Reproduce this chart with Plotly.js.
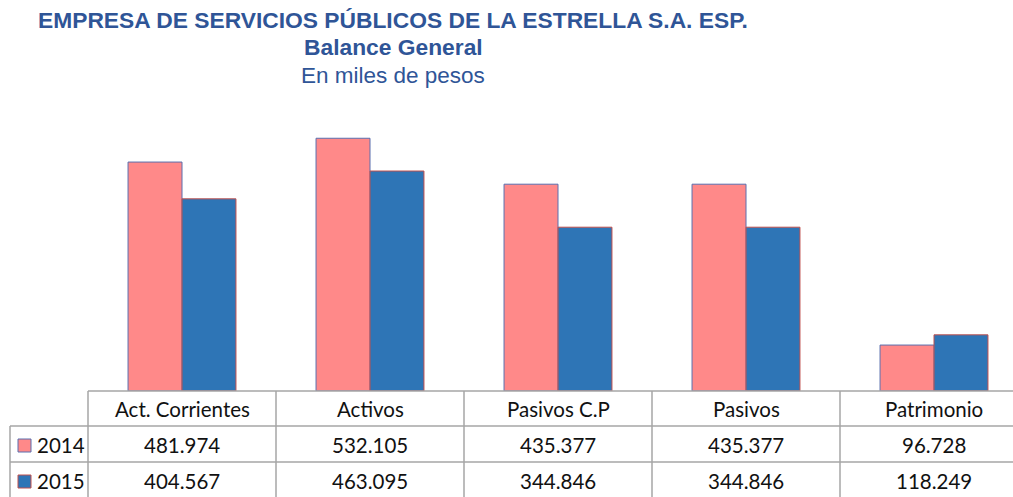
<!DOCTYPE html>
<html><head><meta charset="utf-8">
<script src="https://cdn.plot.ly/plotly-3.0.1.min.js"></script>
<style>html,body{margin:0;padding:0;background:#fff}</style>
</head><body><div id="chart" style="width:1013px;height:497px"></div>
<script>
var categories = ["Act. Corrientes", "Activos", "Pasivos C.P", "Pasivos", "Patrimonio"];
var seriesNames = ["2014", "2015"];
var values2014 = [481.974, 532.105, 435.377, 435.377, 96.728];
var values2015 = [404.567, 463.095, 344.846, 344.846, 118.249];
var titleLines = ["EMPRESA DE SERVICIOS PÚBLICOS DE LA ESTRELLA S.A. ESP.", "Balance General", "En miles de pesos"];

var W = 1013, H = 497, ML = 88, MT = 106, MB = 106;
var plotH = H - MT - MB, plotW = W - ML;
var xr = [-0.5, -0.5 + plotW / 188];
function px2paperX(px){ return (px - ML) / plotW; }
function py2paperY(py){ return (H - MB - py) / plotH; }
function cat2paperX(c){ return (c - xr[0]) / (xr[1] - xr[0]); }

var pink = "#ff8989", blue = "#2e75b6", gridC = "#a6a6a6", titleC = "#2f5597";
var fmt = function(v){ return v.toFixed(3); };

var traces = [
  {type:"bar", name:seriesNames[0], x:categories, y:values2014,
   marker:{color:pink, line:{color:"#5a6fae", width:1}}},
  {type:"bar", name:seriesNames[1], x:categories, y:values2015,
   marker:{color:blue, line:{color:"#c0504d", width:1}}}
];

var shapes = [], annotations = [];
var yTop = py2paperY(391), yR1 = py2paperY(426), yR2 = py2paperY(462), yBot = py2paperY(497);
var xLeft = px2paperX(10);
function hline(x0, x1, y){ shapes.push({type:"line", xref:"paper", yref:"paper", x0:x0, x1:x1, y0:y, y1:y, line:{color:gridC, width:1.5}}); }
function vline(x, y0, y1){ shapes.push({type:"line", xref:"paper", yref:"paper", x0:x, x1:x, y0:y0, y1:y1, line:{color:gridC, width:1.5}}); }
hline(0, 1, yTop); hline(xLeft, 1, yR1); hline(xLeft, 1, yR2);
vline(0, yTop, yBot); vline(xLeft, yR1, yBot);
for (var i = 0; i < categories.length - 1; i++) vline(cat2paperX(i + 0.5), yTop, yBot);

var tf = {family:"Lato, 'Open Sans', sans-serif", size:20.5, color:"#111"};
categories.forEach(function(c, i){
  annotations.push({xref:"x", yref:"paper", x:i, y:py2paperY(409), text:c, showarrow:false, font:tf, xanchor:"center", yanchor:"middle"});
  annotations.push({xref:"x", yref:"paper", x:i, y:py2paperY(445), text:fmt(values2014[i]), showarrow:false, font:tf, xanchor:"center", yanchor:"middle"});
  annotations.push({xref:"x", yref:"paper", x:i, y:py2paperY(481), text:fmt(values2015[i]), showarrow:false, font:tf, xanchor:"center", yanchor:"middle"});
});
// legend keys in table
[[seriesNames[0], pink, "#5a6fae", 445], [seriesNames[1], blue, "#c0504d", 481]].forEach(function(s){
  shapes.push({type:"rect", xref:"paper", yref:"paper", x0:px2paperX(18), x1:px2paperX(31), y0:py2paperY(s[3]-6), y1:py2paperY(s[3]+7), fillcolor:s[1], line:{color:s[2], width:1}});
  annotations.push({xref:"paper", yref:"paper", x:px2paperX(35), y:py2paperY(s[3]), text:s[0], showarrow:false, font:tf, xanchor:"left", yanchor:"middle"});
});
// titles
var tx = px2paperX(393);
var tfam = "Liberation Sans, Arial, sans-serif";
annotations.push({xref:"paper", yref:"paper", x:tx, y:py2paperY(20), text:"<b>"+titleLines[0]+"</b>", showarrow:false, xanchor:"center", yanchor:"middle", font:{family:tfam, size:22.8, color:titleC}});
annotations.push({xref:"paper", yref:"paper", x:tx, y:py2paperY(47), text:"<b>"+titleLines[1]+"</b>", showarrow:false, xanchor:"center", yanchor:"middle", font:{family:tfam, size:22.8, color:titleC}});
annotations.push({xref:"paper", yref:"paper", x:tx, y:py2paperY(75), text:titleLines[2], showarrow:false, xanchor:"center", yanchor:"middle", font:{family:tfam, size:22.5, color:titleC}});

var layout = {
  width:W, height:H, margin:{l:ML, r:0, t:MT, b:MB},
  paper_bgcolor:"#fff", plot_bgcolor:"#fff",
  barmode:"group", bargap:0.426, bargroupgap:0,
  showlegend:false,
  xaxis:{type:"category", range:xr, showticklabels:false, showgrid:false, zeroline:false, showline:false, ticks:""},
  yaxis:{range:[0,600], visible:false, showgrid:false, zeroline:false},
  shapes:shapes, annotations:annotations
};
Plotly.newPlot("chart", traces, layout, {displayModeBar:false, staticPlot:true});
</script></body></html>
